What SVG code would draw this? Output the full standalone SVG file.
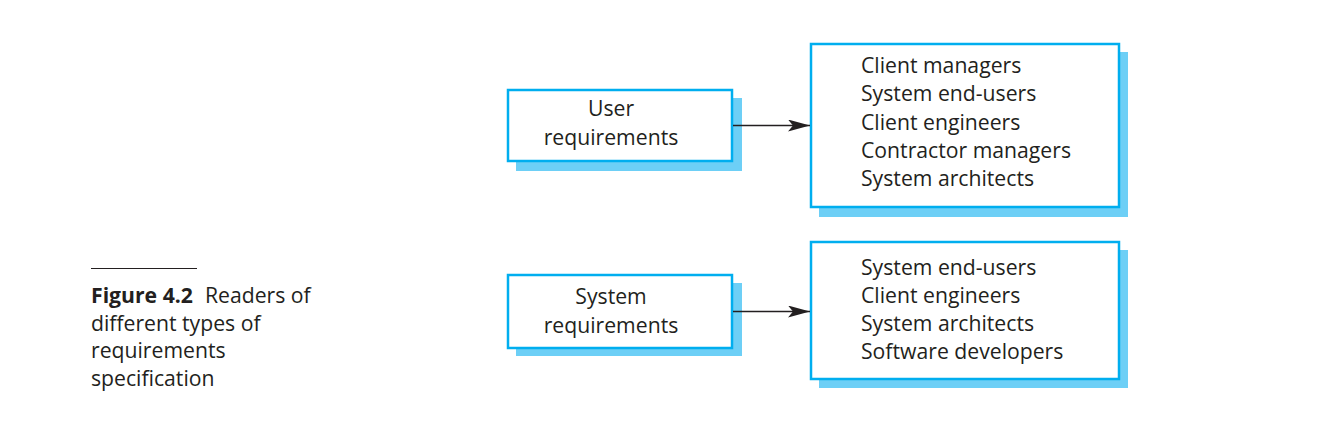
<svg xmlns="http://www.w3.org/2000/svg" width="1328" height="437" viewBox="0 0 1328 437">
<defs>
<style>
.sh{fill:#6dcff6;stroke:none}
.bx{fill:#ffffff;stroke:#00aeef;stroke-width:2.5}
.t{font-family:"Open Sans","Noto Sans",sans-serif;font-size:21.2px;fill:#231f20}
.c{text-anchor:middle}
.cn{stroke:#231f20;stroke-width:1.3;fill:none}
</style>
<marker id="ah" viewBox="0 0 22 12" refX="22" refY="6" markerWidth="22" markerHeight="12" markerUnits="userSpaceOnUse" orient="auto">
<path d="M0,0 L22,6 L0,12 L5,6 Z" fill="#231f20"/>
</marker>
</defs>
<rect width="1328" height="437" fill="#ffffff"/>
<g id="user-req">
<rect class="sh" x="516" y="98" width="226" height="73"/>
<rect class="bx" x="508" y="90" width="224" height="71"/>
<text class="t c" x="611" y="116">User</text>
<text class="t c" x="611" y="145">requirements</text>
</g>
<g id="user-readers">
<rect class="sh" x="819" y="52" width="309" height="165"/>
<rect class="bx" x="811" y="44" width="308" height="163"/>
<text class="t" x="861" y="73">Client managers</text>
<text class="t" x="861" y="101">System end-users</text>
<text class="t" x="861" y="129.5">Client engineers</text>
<text class="t" x="861" y="158">Contractor managers</text>
<text class="t" x="861" y="186">System architects</text>
</g>
<g id="system-req">
<rect class="sh" x="516" y="283" width="226" height="73"/>
<rect class="bx" x="508" y="275" width="224" height="73"/>
<text class="t c" x="611" y="304">System</text>
<text class="t c" x="611" y="333">requirements</text>
</g>
<g id="system-readers">
<rect class="sh" x="819" y="250" width="309" height="138"/>
<rect class="bx" x="811" y="242" width="308" height="137"/>
<text class="t" x="861" y="274.5">System end-users</text>
<text class="t" x="861" y="302.5">Client engineers</text>
<text class="t" x="861" y="331">System architects</text>
<text class="t" x="861" y="359">Software developers</text>
</g>
<g id="connectors">
<line class="cn" x1="733" y1="125.5" x2="810" y2="125.5" marker-end="url(#ah)"/>
<line class="cn" x1="733" y1="311.5" x2="810" y2="311.5" marker-end="url(#ah)"/>
</g>
<g id="caption">
<line x1="91" y1="268.5" x2="197" y2="268.5" stroke="#231f20" stroke-width="1.2"/>
<text class="t" x="91" y="303"><tspan font-weight="bold">Figure 4.2</tspan><tspan x="205">Readers of</tspan></text>
<text class="t" x="91" y="330.5">different types of</text>
<text class="t" x="91" y="358">requirements</text>
<text class="t" x="91" y="385.5">specification</text>
</g>
</svg>
